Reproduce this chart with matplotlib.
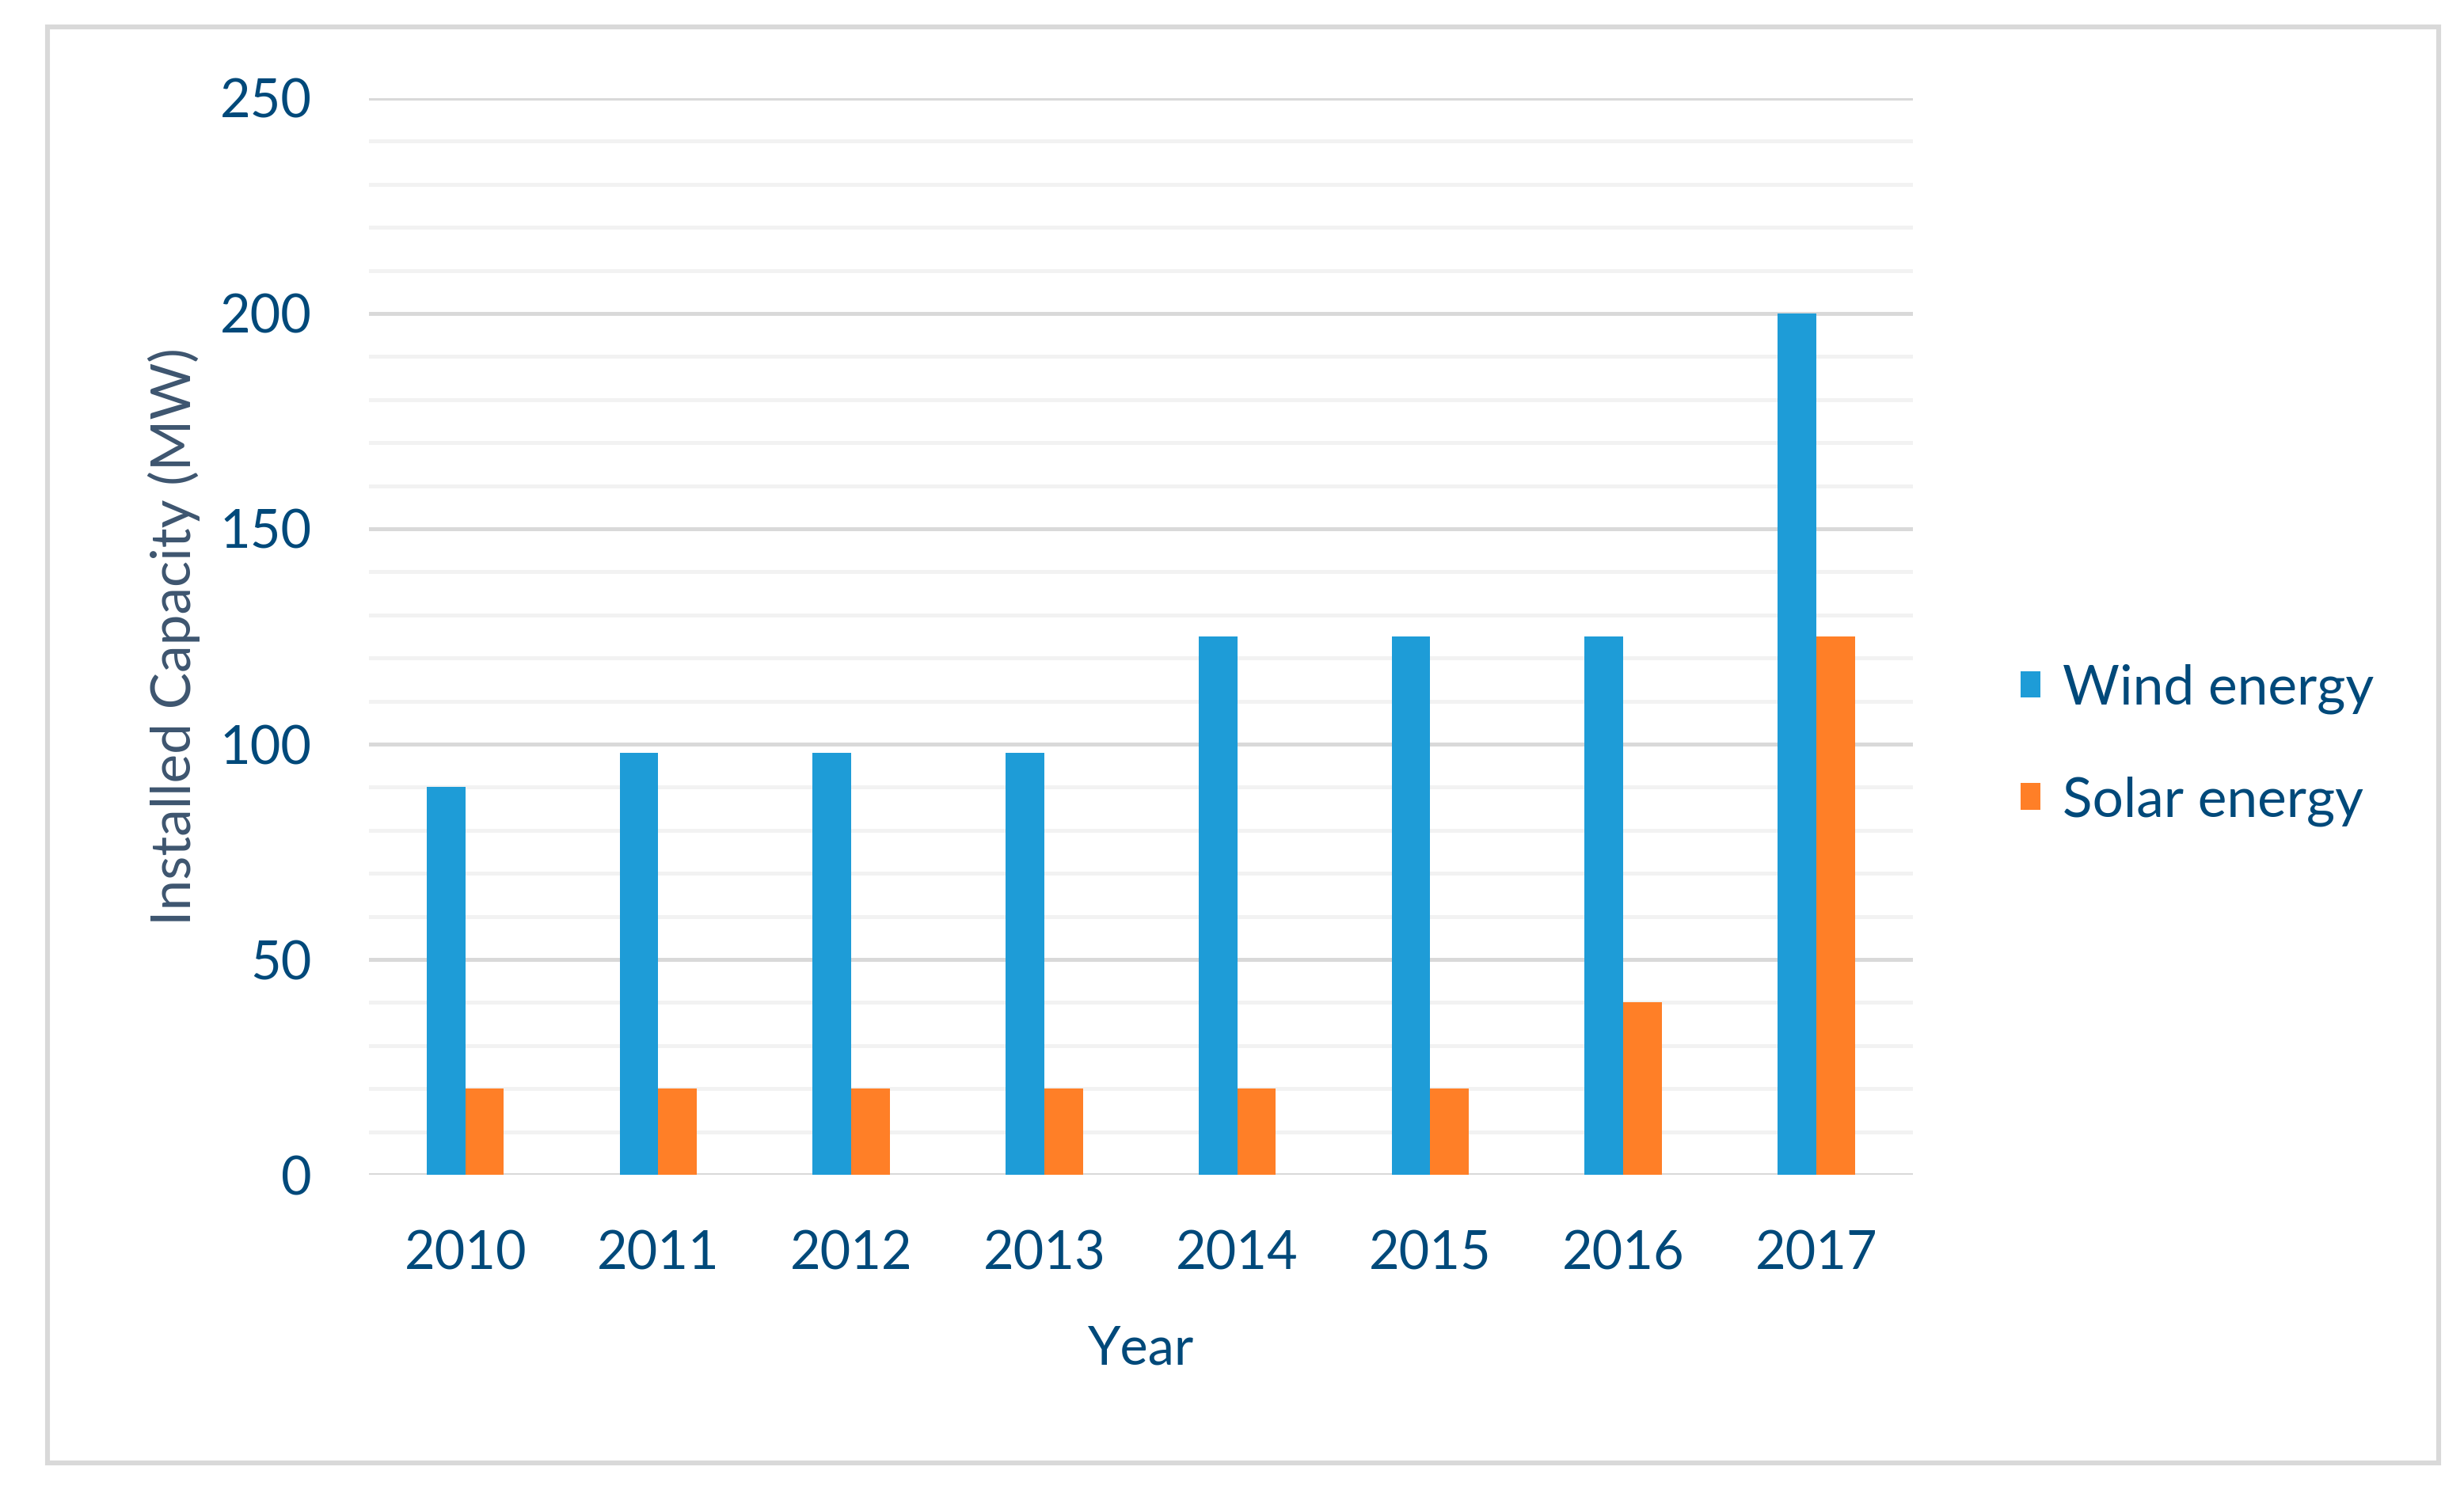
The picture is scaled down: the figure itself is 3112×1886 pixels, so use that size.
import numpy as np
import matplotlib.pyplot as plt
from matplotlib.patches import Rectangle

years = ['2010', '2011', '2012', '2013', '2014', '2015', '2016', '2017']
wind = [90, 98, 98, 98, 125, 125, 125, 200]
solar = [20, 20, 20, 20, 20, 20, 40, 125]

wind_color = '#1E9CD7'
solar_color = '#FF7F27'
text_color = '#00497A'
label_color = '#3D556F'

plt.rcParams['font.family'] = ['Lato', 'DejaVu Sans']

fig = plt.figure(figsize=(15.56, 9.43), dpi=200)
ax = fig.add_axes([0.1497, 0.2131, 0.6266, 0.7212])

x = np.arange(len(years))
w = 0.2
ax.bar(x - w / 2, wind, w, color=wind_color, label='Wind energy', zorder=3)
ax.bar(x + w / 2, solar, w, color=solar_color, label='Solar energy', zorder=3)

ax.set_xlim(-0.5, len(years) - 0.5)
ax.set_ylim(0, 250)

# gridlines like Excel: light minor every 10, darker major every 50
for v in range(10, 250, 10):
    if v % 50:
        ax.axhline(v, color='#F2F2F2', lw=1.8, zorder=1)
for v in range(0, 251, 50):
    ax.axhline(v, color='#D9D9D9', lw=1.8, zorder=2)

for s in ax.spines.values():
    s.set_visible(False)

ax.set_yticks(range(0, 251, 50))
ax.set_xticks(x)
ax.set_xticklabels(years)
ax.tick_params(axis='both', length=0, labelsize=24, colors=text_color)
ax.tick_params(axis='y', pad=26)
ax.tick_params(axis='x', pad=25)

ax.set_xlabel('Year', fontsize=24, color=text_color, labelpad=21)
ax.set_ylabel('Installed Capacity (MW)', fontsize=25, color=label_color, labelpad=9)

leg = ax.legend(loc='center left', bbox_to_anchor=(0.800, 0.501), bbox_transform=fig.transFigure,
                frameon=False, fontsize=25, handlelength=0.36, handleheight=0.36,
                handletextpad=0.4, labelspacing=1.12)
for t in leg.get_texts():
    t.set_color(text_color)

# outer chart border
fig.patches.append(Rectangle((0.0193, 0.0201), 0.9704, 0.962, transform=fig.transFigure,
                             fill=False, edgecolor='#D9D9D9', lw=2.2))

fig.savefig('out.png', dpi=200, facecolor='white')
